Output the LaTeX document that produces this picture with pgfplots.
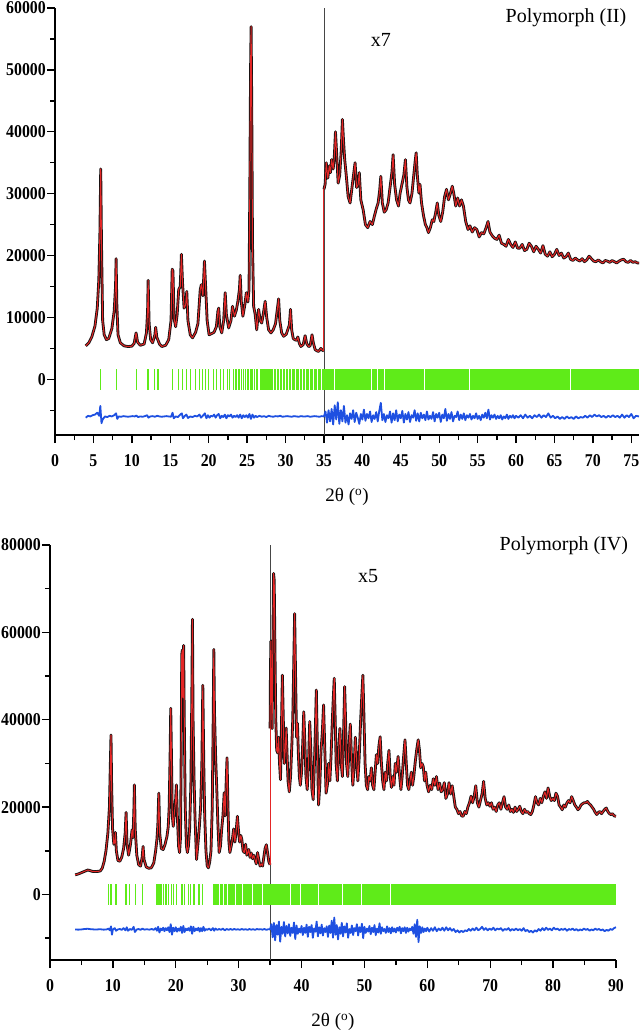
\documentclass[border=0pt]{standalone}
\usepackage{pgfplots}
\pgfplotsset{compat=1.18}
\usepackage{pgfplotstable}
\usepackage{fontspec}
\setmainfont{Liberation Serif}
\newfontfamily\tickfont[FakeStretch=0.88]{Liberation Serif}
\definecolor{obsblack}{RGB}{25,18,18}
\definecolor{calcred}{RGB}{228,38,38}
\definecolor{tickgreen}{RGB}{95,235,25}
\definecolor{diffblue}{RGB}{30,80,225}
\definecolor{vline}{RGB}{70,70,70}

% ---------------- Polymorph (II) ----------------
\pgfplotstableread{
x y
4.0 5400
4.4 5900
4.8 6900
5.2 8600
5.5 11500
5.7 16000
5.85 24000
5.95 34000
6.05 22000
6.2 9500
6.4 7200
6.7 6400
7.0 6600
7.4 8200
7.7 11000
7.88 15000
7.95 19500
8.05 12000
8.2 7200
8.5 5900
9.0 5400
9.5 5300
10.0 5350
10.3 5800
10.55 7500
10.75 6000
11.1 5500
11.6 5700
11.9 7500
12.05 11000
12.12 16000
12.25 9000
12.45 6400
12.7 5900
13.0 7200
13.1 8400
13.25 6800
13.6 5700
13.9 5300
14.4 5500
14.8 6400
15.1 9500
15.25 17800
15.35 17500
15.5 9800
15.7 8500
15.9 10500
16.1 14500
16.3 15000
16.45 20200
16.6 15500
16.8 11500
17.0 12000
17.15 14200
17.3 9500
17.6 7200
17.9 6700
18.3 7600
18.6 9000
18.9 14500
19.05 15300
19.25 13500
19.45 19100
19.6 15000
19.8 9500
20.05 7200
20.4 7400
20.7 7600
21.0 8500
21.2 11000
21.3 11500
21.45 8500
21.7 7500
21.95 9500
22.15 14000
22.3 10500
22.6 8300
22.9 9500
23.1 11800
23.35 10200
23.6 11200
23.8 12600
24.0 14500
24.1 16800
24.25 12500
24.45 10200
24.7 12000
24.9 14000
25.1 12500
25.25 14500
25.35 30000
25.45 50000
25.52 57000
25.6 45000
25.7 22000
25.85 11800
26.05 10500
26.25 8000
26.5 11300
26.7 9500
26.9 9100
27.1 10500
27.35 12600
27.55 10000
27.8 8000
28.1 7500
28.4 8000
28.7 9000
28.95 11500
29.1 13000
29.25 9500
29.5 7500
29.75 6950
30.1 7300
30.5 8800
30.65 11300
30.8 8000
31.0 6600
31.2 6400
31.45 6300
31.6 6850
31.8 5800
32.0 5300
32.3 5600
32.55 7050
32.75 5800
33.0 5300
33.2 5400
33.45 7200
33.6 6000
33.85 4800
34.1 4600
34.3 4500
34.6 5000
34.8 4700
35.0 4600
}\topA

\pgfplotstableread{
x y
35.0 30700
35.15 31500
35.3 35000
35.5 32500
35.7 34500
35.85 33400
36.0 35500
36.2 34000
36.35 36000
36.5 40000
36.65 36500
36.85 31700
37.05 33000
37.25 37000
37.4 42000
37.55 38500
37.7 35500
37.9 33000
38.15 29500
38.4 28500
38.65 31000
38.85 33000
39.05 35000
39.25 31000
39.45 31500
39.6 33400
39.8 29000
40.1 27400
40.4 25000
40.7 24500
41.0 25500
41.3 25000
41.55 26300
41.8 27500
42.05 28500
42.25 30500
42.4 32800
42.6 28500
42.85 27000
43.1 27400
43.35 28500
43.6 31000
43.85 33500
44.0 36300
44.2 31500
44.45 29000
44.7 28000
44.9 30000
45.15 31500
45.4 33000
45.6 35500
45.8 31000
46.0 29000
46.2 28500
46.45 30000
46.65 32500
46.85 35000
47.0 36600
47.15 33000
47.35 30100
47.5 31500
47.7 28500
47.95 26500
48.2 25000
48.4 24500
48.6 23700
48.85 24500
49.1 25800
49.3 25500
49.55 27000
49.75 28500
49.95 26500
50.2 25500
50.45 27000
50.7 29500
50.95 30700
51.2 29000
51.45 30000
51.7 31200
51.9 30000
52.15 28000
52.4 29300
52.65 28000
52.9 29000
53.15 28000
53.45 25500
53.75 24200
54.0 24800
54.3 23800
54.6 24500
54.9 24200
55.2 23000
55.5 23700
55.8 23500
56.1 24500
56.35 25500
56.6 23800
56.9 23200
57.2 22800
57.5 22600
57.8 23300
58.1 22000
58.4 21800
58.7 21500
59.0 22600
59.3 21800
59.6 21300
59.9 22200
60.2 21200
60.5 21200
60.8 21800
61.1 20800
61.4 21000
61.7 22000
62.0 21500
62.3 20600
62.6 21500
62.9 21000
63.2 20400
63.5 21600
63.8 20200
64.1 19900
64.4 20600
64.7 19800
65.0 20200
65.3 21000
65.6 20000
65.9 20400
66.2 19600
66.5 19800
66.8 20400
67.1 19400
67.4 19200
67.7 19600
68.0 19300
68.3 19100
68.6 19500
68.9 19000
69.2 19300
69.5 19900
69.8 19500
70.1 19100
70.4 19000
70.7 19300
71.0 19000
71.3 18800
71.6 19200
71.9 19100
72.2 18900
72.5 19200
72.8 19000
73.1 18800
73.4 19100
73.7 19300
74.0 19400
74.3 19000
74.6 18900
74.9 19200
75.2 18900
75.5 19000
75.8 18800
76.0 18800
}\topB

\pgfplotstableread{
x y
4.0 -6200
4.3 -5900
4.6 -6000
4.9 -5800
5.2 -5700
5.5 -5400
5.75 -5900
5.9 -4300
6.05 -7100
6.2 -6500
6.5 -6000
6.8 -6100
7.1 -5900
7.4 -6000
7.7 -5800
7.95 -5500
8.1 -6400
8.3 -6000
8.6 -6050
8.9 -5950
9.2 -6000
9.5 -6050
9.8 -6000
10.1 -5950
10.4 -6000
10.6 -5850
10.8 -6100
11.1 -6000
11.4 -6050
11.7 -5950
12.0 -5800
12.15 -6200
12.4 -6000
12.7 -5950
13.0 -6050
13.3 -5900
13.6 -6000
13.9 -6050
14.2 -6000
14.5 -5950
14.8 -6000
15.1 -6050
15.3 -5400
15.45 -6300
15.7 -6000
16.0 -6100
16.3 -5700
16.5 -5500
16.65 -6300
16.9 -5900
17.1 -5700
17.3 -6250
17.6 -6000
17.9 -6100
18.2 -5900
18.5 -6000
18.8 -5700
19.0 -6200
19.3 -5800
19.5 -5500
19.7 -6300
19.9 -5800
20.1 -6200
20.3 -5900
20.5 -6000
20.7 -5700
20.9 -6200
21.1 -5800
21.3 -5600
21.5 -6300
21.7 -5900
21.9 -6100
22.1 -5700
22.3 -6300
22.5 -5800
22.7 -6000
22.9 -5700
23.1 -6200
23.3 -5900
23.5 -6100
23.7 -5800
23.9 -6200
24.1 -5700
24.3 -6300
24.5 -5800
24.7 -6100
24.9 -5800
25.1 -6200
25.3 -5600
25.5 -6400
25.7 -5700
25.9 -6200
26.1 -5900
26.3 -6100
26.6 -5900
26.9 -6050
27.2 -5950
27.5 -6100
27.8 -5900
28.1 -6000
28.4 -6050
28.7 -5950
29.0 -6000
29.3 -5900
29.6 -6050
29.9 -6000
30.2 -5950
30.5 -6000
30.8 -6050
31.1 -5950
31.4 -6000
31.7 -6050
32.0 -5950
32.3 -6000
32.6 -6000
32.9 -5950
33.2 -6050
33.5 -6000
33.8 -5950
34.1 -6000
34.4 -6050
34.7 -5950
35.0 -6000
35.2 -5200
35.4 -7000
35.6 -5000
35.8 -6800
36.0 -4800
36.2 -7300
36.4 -4200
36.6 -6500
36.8 -3700
37.0 -7200
37.2 -5000
37.4 -6800
37.6 -4300
37.8 -7000
38.0 -5800
38.2 -7300
38.4 -5500
38.6 -6400
38.8 -5000
39.0 -6900
39.2 -5400
39.4 -6200
39.6 -7200
39.8 -5600
40.0 -6500
40.2 -4900
40.4 -6700
40.6 -5600
40.8 -6300
41.0 -5200
41.2 -6900
41.4 -5800
41.6 -6400
41.8 -5300
42.0 -6800
42.2 -5100
42.4 -3800
42.6 -6600
42.8 -5600
43.0 -6900
43.2 -5800
43.4 -6300
43.6 -5200
43.8 -7000
44.0 -5500
44.2 -6600
44.4 -5000
44.6 -6800
44.8 -5700
45.0 -6300
45.2 -5100
45.4 -7000
45.6 -5600
45.8 -6500
46.0 -5300
46.2 -6900
46.4 -5800
46.6 -6200
46.8 -5000
47.0 -6700
47.2 -5500
47.4 -6800
47.6 -5400
47.8 -6300
48.0 -5700
48.2 -6600
48.4 -5200
48.6 -6500
48.8 -5900
49.0 -6400
49.2 -5300
49.4 -6800
49.6 -5600
49.8 -6200
50.0 -5400
50.2 -6900
50.4 -5700
50.6 -6300
50.8 -4800
51.0 -6700
51.2 -5600
51.4 -6400
51.6 -5300
51.8 -6800
52.0 -5900
52.2 -6100
52.4 -5200
52.6 -6600
52.8 -5700
53.0 -6400
53.2 -5500
53.4 -6600
53.6 -5800
53.8 -6200
54.0 -5600
54.2 -6500
54.4 -5900
54.6 -6300
54.8 -5500
55.0 -6400
55.2 -5900
55.4 -6600
55.6 -5700
55.8 -6200
56.0 -5400
56.2 -6300
56.4 -4900
56.6 -6500
56.8 -5800
57.0 -6200
57.2 -5700
57.4 -6400
57.6 -5900
57.8 -6300
58.0 -5800
58.2 -6500
58.4 -6000
58.6 -6300
58.8 -5700
59.0 -6400
59.2 -5900
59.4 -6200
59.6 -5800
59.8 -6300
60.0 -5900
60.3 -6200
60.6 -5800
60.9 -6300
61.2 -5700
61.5 -6200
61.8 -5900
62.1 -6300
62.4 -5800
62.7 -6100
63.0 -5700
63.3 -6200
63.6 -5800
63.9 -6100
64.2 -5500
64.5 -6200
64.8 -5900
65.1 -6300
65.4 -6000
65.7 -6400
66.0 -6100
66.3 -6400
66.6 -6000
66.9 -6300
67.2 -6100
67.5 -6400
67.8 -6000
68.1 -6300
68.4 -6100
68.7 -6200
69.0 -5900
69.3 -6200
69.6 -5800
69.9 -6100
70.2 -5700
70.5 -6000
70.8 -5800
71.1 -6100
71.4 -5900
71.7 -6200
72.0 -5900
72.3 -6100
72.6 -5800
72.9 -6100
73.2 -5900
73.5 -6200
73.8 -5700
74.1 -6200
74.4 -5800
74.7 -6100
75.0 -5600
75.3 -6300
75.6 -5900
76.0 -6000
}\topD

% ---------------- Polymorph (IV) ----------------
\pgfplotstableread{
x y
4.0 4500
4.5 4700
5.0 5000
5.5 5300
6.0 5600
6.3 5500
6.7 5300
7.2 5250
7.7 5300
8.0 5400
8.3 6000
8.6 7500
8.9 10000
9.2 14000
9.45 20000
9.6 30000
9.7 36500
9.8 25000
9.95 15000
10.15 11500
10.3 12000
10.4 14200
10.55 10000
10.8 7800
11.1 7600
11.4 8500
11.7 10500
11.95 14000
12.1 18800
12.25 11500
12.5 9000
12.8 11500
13.05 14800
13.2 13000
13.35 20000
13.42 25100
13.55 15000
13.8 9000
14.1 6800
14.4 6500
14.65 8500
14.8 11000
14.95 8000
15.3 6300
15.7 6000
16.1 6100
16.5 7200
16.8 10000
17.0 12600
17.15 16000
17.3 23200
17.45 14000
17.7 10500
18.0 10300
18.3 11500
18.6 13300
18.8 15500
18.95 20000
19.1 32000
19.2 42600
19.3 33000
19.45 18000
19.6 15600
19.8 19000
19.95 21000
20.1 25100
20.25 18000
20.45 11000
20.6 9600
20.75 13000
20.85 30000
20.95 55000
21.05 56000
21.15 45000
21.25 57000
21.35 40000
21.5 20000
21.7 11000
21.85 9600
22.0 11000
22.2 15000
22.4 25000
22.55 45000
22.65 63000
22.75 40000
22.9 27000
23.05 18000
23.3 8000
23.55 12000
23.75 15600
23.95 20000
24.15 30000
24.3 47900
24.45 30000
24.6 18000
24.8 10000
25.0 6500
25.2 6100
25.4 7500
25.6 10000
25.8 20000
25.95 40000
26.05 56100
26.15 42000
26.35 30800
26.5 25000
26.7 16000
26.9 9600
27.1 11000
27.3 15000
27.5 18000
27.7 23300
27.85 18000
28.0 25000
28.15 31300
28.3 20000
28.45 12000
28.6 9600
28.8 11000
29.0 12600
29.2 15000
29.4 12000
29.6 14500
29.8 17900
29.95 15000
30.15 12000
30.35 13500
30.5 12600
30.7 10000
30.9 9600
31.1 11500
31.3 9000
31.6 10300
31.8 8500
32.0 9500
32.2 8200
32.4 9000
32.6 8000
32.8 7000
33.0 9600
33.2 8000
33.4 6500
33.6 7000
33.8 6500
34.0 8500
34.2 10500
34.4 11400
34.6 9500
34.8 7500
35.0 6800
}\botA

\pgfplotstableread{
x y
35.0 38000
35.05 50000
35.12 58000
35.22 48000
35.32 38000
35.42 55000
35.55 73500
35.65 72000
35.78 55000
35.9 40000
36.05 33000
36.2 32400
36.35 36000
36.5 30000
36.65 26300
36.8 38000
36.95 50200
37.1 40000
37.25 30000
37.4 33000
37.55 38100
37.7 32000
37.85 26000
38.05 23500
38.25 27000
38.45 34000
38.6 40000
38.75 52000
38.9 64300
39.05 50000
39.2 36000
39.35 39200
39.5 32000
39.65 27000
39.8 25000
40.0 28000
40.2 35000
40.35 41800
40.5 36000
40.7 27000
40.9 24000
41.1 30000
41.3 39600
41.45 34000
41.65 24000
41.85 21700
42.05 30000
42.2 38000
42.35 46800
42.5 35000
42.7 20500
42.9 25000
43.1 33000
43.3 37000
43.5 43400
43.7 33000
43.9 23200
44.1 25000
44.3 30000
44.5 26000
44.7 32000
44.9 40000
45.05 45000
45.2 49500
45.35 40000
45.5 30000
45.7 26000
45.9 33000
46.1 38000
46.3 30000
46.5 27000
46.7 38000
46.85 47600
47.0 40000
47.15 30000
47.35 27000
47.55 34000
47.75 39000
47.95 31000
48.15 25000
48.35 29000
48.55 36000
48.75 31000
48.95 26000
49.15 31000
49.4 40000
49.6 46000
49.75 50200
49.9 42000
50.1 30000
50.3 25000
50.5 24000
50.7 27000
50.9 26000
51.1 29000
51.3 25000
51.5 24000
51.7 28000
51.9 32000
52.1 30000
52.3 34000
52.5 36100
52.7 30000
52.9 26000
53.1 24000
53.3 28000
53.5 26000
53.7 30000
53.9 33000
54.1 27000
54.3 24500
54.5 27000
54.7 25000
54.9 30000
55.1 28000
55.35 31600
55.6 27000
55.8 24000
56.0 27000
56.2 31000
56.45 35400
56.65 30000
56.85 25000
57.05 24000
57.25 26000
57.45 28000
57.65 25000
57.85 27000
58.05 30000
58.3 33000
58.55 35400
58.75 33000
58.95 29000
59.15 30000
59.35 29300
59.55 26000
59.75 28000
59.95 25000
60.2 23500
60.45 25000
60.7 24000
60.95 26500
61.2 25000
61.45 27000
61.7 24000
61.95 25500
62.2 23500
62.45 24000
62.7 25600
62.95 22000
63.2 23000
63.45 25600
63.7 23000
63.95 24900
64.2 22500
64.45 20000
64.7 19500
64.95 18500
65.2 19000
65.45 18000
65.7 17900
65.95 19000
66.2 18500
66.45 20000
66.7 21000
66.95 22500
67.2 21000
67.45 22500
67.7 24900
67.95 21000
68.2 20000
68.45 21500
68.7 23000
68.95 25900
69.2 22000
69.45 20500
69.7 21000
69.95 20200
70.2 21000
70.45 19500
70.7 20000
70.95 19000
71.2 20500
71.45 21000
71.7 19500
71.95 21000
72.2 22400
72.45 20000
72.7 19500
72.95 20500
73.2 19000
73.45 19500
73.7 18800
73.95 20000
74.2 19000
74.45 19500
74.7 20200
74.95 19000
75.2 18500
75.45 19500
75.7 18800
75.95 19000
76.2 18500
76.45 18300
76.7 19000
76.95 20500
77.2 22400
77.45 21000
77.7 20500
77.95 22000
78.2 21000
78.45 22500
78.7 23500
78.95 22000
79.2 24400
79.45 22500
79.7 21500
79.95 22000
80.2 21500
80.45 23200
80.7 22500
80.95 20500
81.2 20000
81.45 19400
81.7 20500
81.95 20000
82.2 21000
82.45 21500
82.7 21000
82.95 22400
83.2 21500
83.45 20500
83.7 20000
83.95 19400
84.2 19800
84.45 20500
84.7 20800
84.95 21000
85.2 21000
85.45 21300
85.7 20800
85.95 20500
86.2 20000
86.45 19500
86.7 18800
86.95 18300
87.2 18800
87.45 19000
87.7 18500
87.95 19000
88.2 19500
88.45 19800
88.7 19000
88.95 18500
89.2 18300
89.45 18500
89.7 18000
90.0 17900
}\botB

\pgfplotstableread{
x y
4.0 -8000
4.5 -8050
5.0 -8000
5.5 -7900
6.0 -7850
6.5 -7950
7.0 -8000
7.5 -8000
8.0 -7950
8.5 -8050
9.0 -8000
9.3 -7800
9.5 -8200
9.7 -7300
9.85 -9200
10.0 -8000
10.3 -7700
10.5 -8300
10.8 -8000
11.1 -7900
11.4 -8100
11.7 -7700
12.0 -8200
12.2 -7500
12.4 -8300
12.7 -7900
13.0 -8100
13.3 -7400
13.5 -8600
13.8 -8000
14.1 -7900
14.4 -8100
14.7 -7800
15.0 -8050
15.4 -7950
15.8 -8050
16.2 -7900
16.5 -8100
16.8 -7700
17.0 -8300
17.2 -7400
17.4 -8700
17.6 -7800
17.8 -8200
18.0 -7600
18.2 -8400
18.4 -7700
18.6 -8200
18.8 -7500
19.0 -8600
19.2 -6800
19.4 -9200
19.6 -7600
19.8 -8400
20.0 -7500
20.2 -8500
20.4 -7800
20.6 -8300
20.8 -7400
21.0 -8800
21.2 -7200
21.4 -8600
21.6 -7800
21.8 -8200
22.0 -7700
22.2 -8300
22.4 -7300
22.6 -9000
22.8 -7400
23.0 -8400
23.2 -7800
23.4 -8200
23.6 -7600
23.8 -8500
24.0 -7700
24.2 -8400
24.4 -7400
24.6 -8300
24.8 -7900
25.0 -8100
25.3 -7800
25.6 -8200
25.9 -7700
26.1 -8300
26.3 -7800
26.6 -8100
26.9 -7900
27.2 -8100
27.5 -7800
27.8 -8200
28.1 -7900
28.4 -8100
28.7 -7900
29.0 -8100
29.3 -7900
29.6 -8050
29.9 -7950
30.2 -8100
30.5 -7900
30.8 -8050
31.1 -7950
31.4 -8100
31.7 -7900
32.0 -8050
32.3 -7950
32.6 -8100
32.9 -7900
33.2 -8000
33.5 -7950
33.8 -8050
34.1 -7900
34.4 -8100
34.7 -7950
35.0 -8000
35.2 -6800
35.4 -9800
35.6 -6500
35.8 -10500
36.0 -7000
36.2 -9200
36.4 -6200
36.6 -10800
36.8 -7400
37.0 -9000
37.2 -6300
37.4 -9600
37.6 -7200
37.8 -8900
38.0 -6800
38.2 -9500
38.4 -7600
38.6 -8800
38.8 -6400
39.0 -10200
39.2 -7100
39.4 -9000
39.6 -7800
39.8 -8700
40.0 -7200
40.2 -9300
40.4 -7600
40.6 -8800
40.8 -6900
41.0 -9700
41.2 -7400
41.4 -8600
41.6 -7000
41.8 -9900
42.0 -7800
42.2 -8500
42.4 -6200
42.6 -9600
42.8 -7500
43.0 -8900
43.2 -6900
43.4 -9400
43.6 -7700
43.8 -8600
44.0 -7300
44.2 -9700
44.4 -7100
44.6 -8800
44.8 -6000
45.0 -9900
45.2 -5300
45.4 -9200
45.6 -7000
45.8 -10300
46.0 -7500
46.2 -9000
46.4 -6500
46.6 -9600
46.8 -7300
47.0 -8700
47.2 -6600
47.4 -9900
47.6 -7900
47.8 -8800
48.0 -7100
48.2 -9300
48.4 -7700
48.6 -8400
48.8 -6800
49.0 -9400
49.2 -7500
49.4 -8600
49.6 -6700
49.8 -10000
50.0 -7400
50.2 -8800
50.4 -7800
50.6 -8500
50.8 -7200
51.0 -9100
51.2 -7600
51.4 -8600
51.6 -7000
51.8 -9300
52.0 -7800
52.2 -8700
52.4 -6600
52.6 -9000
52.8 -7500
53.0 -8400
53.2 -7900
53.4 -8800
53.6 -7300
53.8 -8600
54.0 -7700
54.2 -8900
54.4 -7500
54.6 -8500
54.8 -7800
55.0 -8700
55.2 -7600
55.4 -8300
55.6 -7400
55.8 -8900
56.0 -7700
56.2 -8400
56.4 -7500
56.6 -8800
56.8 -7600
57.0 -8500
57.2 -7800
57.4 -8200
57.6 -7400
57.8 -9000
58.0 -6800
58.2 -9700
58.4 -5800
58.6 -10900
58.8 -7300
59.0 -8800
59.2 -7500
59.4 -8600
59.6 -7800
59.8 -8400
60.0 -7600
60.3 -8500
60.6 -7700
60.9 -8300
61.2 -7500
61.5 -8400
61.8 -7800
62.1 -8200
62.4 -7600
62.7 -8300
63.0 -7500
63.3 -8200
63.6 -7700
63.9 -8300
64.2 -7900
64.5 -8600
64.8 -8200
65.1 -8700
65.4 -8300
65.7 -8600
66.0 -8200
66.3 -8400
66.6 -7900
66.9 -8300
67.2 -7800
67.5 -8200
67.8 -7600
68.1 -8200
68.4 -7900
68.7 -7400
69.0 -8100
69.3 -7700
69.6 -8200
69.9 -7800
70.2 -8100
70.5 -7600
70.8 -8200
71.1 -7800
71.4 -8000
71.7 -7700
72.0 -8300
72.3 -7900
72.6 -8100
72.9 -7700
73.2 -8300
73.5 -7900
73.8 -8200
74.1 -7800
74.4 -8200
74.7 -7900
75.0 -8300
75.3 -7700
75.6 -8400
75.9 -8100
76.2 -8600
76.5 -8300
76.8 -8700
77.1 -8200
77.4 -8500
77.7 -7900
78.0 -8300
78.3 -7700
78.6 -8200
78.9 -7600
79.2 -8100
79.5 -7800
79.8 -8200
80.1 -7600
80.4 -8000
80.7 -7800
81.0 -8200
81.3 -7900
81.6 -8100
81.9 -7800
82.2 -8300
82.5 -7900
82.8 -8100
83.1 -7800
83.4 -8200
83.7 -7900
84.0 -8300
84.3 -8000
84.6 -8200
84.9 -7800
85.2 -8100
85.5 -7900
85.8 -8300
86.1 -8000
86.4 -8200
86.7 -7800
87.0 -8100
87.3 -7900
87.6 -8200
87.9 -8000
88.2 -8400
88.5 -8100
88.8 -8300
89.1 -7900
89.4 -8100
89.7 -7700
90.0 -7500
}\botD

\pgfplotsset{
  rv/.style={
    scale only axis,
    axis lines*=left,
    axis line style={line width=1.6pt, black},
    tick align=outside,
    major tick length=8pt,
    minor tick length=5pt,
    every tick/.append style={black, line width=1.4pt},
    tick label style={font=\tickfont\bfseries\fontsize{18}{18}\selectfont},
    /pgf/number format/assume math mode=true,
    scaled ticks=false,
    yticklabel style={inner sep=1pt, /pgf/number format/.cd, fixed, 1000 sep={}},
    xticklabel style={yshift=-8pt, /pgf/number format/.cd, fixed, 1000 sep={}},
    clip=false,
    xlabel style={font=\fontsize{19}{19}\selectfont, anchor=center},
  },
  obs/.style={obsblack, line width=2.8pt, line join=round},
  calc/.style={calcred, line width=1pt, line join=round},
  diff/.style={diffblue, line width=1.8pt, line join=round},
}

\begin{document}
\begin{tikzpicture}[x=1pt,y=1pt]
\path[use as bounding box] (0,0) rectangle (640,-1035);

% ===== Top: Polymorph (II) =====
\begin{axis}[rv,
  at={(55pt,-435pt)}, anchor=south west,
  width=584pt, height=427pt,
  xmin=0, xmax=76, ymin=-9000, ymax=60000,
  xtick={0,5,...,75}, minor x tick num=1,
  ytick={-10000,0,10000,20000,30000,40000,50000,60000}, minor y tick num=1,
  xlabel={2θ (\textsuperscript{o})},
  xlabel style={at={(axis description cs:0.5,-0.145)}},
]
\addplot[vline, line width=0.7pt] coordinates {(35,-9000) (35,60000)};
% reflection markers
\addplot[draw=none, fill=tickgreen] coordinates {(23.45,-1700) (26.4,-1700) (26.4,1700) (23.45,1700)};
\addplot[draw=none, fill=tickgreen] coordinates {(26.7,-1700) (76,-1700) (76,1700) (26.7,1700)};
\addplot[draw=none, forget plot, error bars/.cd, y dir=both, y fixed=1700,
  error mark=none, error bar style={tickgreen, line width=1.2pt}]
  coordinates {(5.93,0) (8.0,0) (10.6,0) (12.1,0) (13.0,0) (13.4,0) (15.3,0) (16.1,0) (16.6,0) (17.1,0) (17.6,0) (18.3,0) (18.8,0) (19.2,0) (19.6,0) (20.0,0) (20.6,0) (21.0,0) (21.5,0) (21.9,0) (22.4,0) (22.7,0) (23.2,0)};
\addplot[draw=none, forget plot, error bars/.cd, y dir=both, y fixed=1750,
  error mark=none, error bar style={white, line width=0.6pt}]
  coordinates {(23.75,0) (24.05,0) (24.35,0) (24.65,0) (24.95,0) (25.35,0) (25.75,0) (26.05,0) (28.4,0) (28.8,0) (29.2,0) (29.6,0) (30.0,0) (30.4,0) (30.8,0) (31.3,0) (31.8,0) (32.2,0) (32.6,0) (33.1,0) (33.6,0) (34.1,0) (34.6,0) (36.4,0) (41.1,0) (41.9,0) (42.9,0) (48.1,0) (53.9,0) (67.1,0)};
% difference
\addplot[diff] table {\topD};
% observed
\addplot[obs] table {\topA};
\addplot[obs] table {\topB};
% calculated
\addplot[calc] table {\topA};
\addplot[calc] coordinates {(35,4600) (35,30700)};
\addplot[calc] table {\topB};
\node[font=\fontsize{20}{20}\selectfont] at (axis cs:66.5,58450) {Polymorph (II)};
\node[font=\fontsize{20}{20}\selectfont] at (axis cs:42.4,54900) {x7};
\end{axis}

% ===== Bottom: Polymorph (IV) =====
\begin{axis}[rv,
  at={(50pt,-960pt)}, anchor=south west,
  width=566pt, height=415pt,
  xmin=0, xmax=90, ymin=-15000, ymax=80000,
  xtick={0,10,...,90}, minor x tick num=1,
  ytick={-20000,0,20000,40000,60000,80000}, minor y tick num=1,
  xlabel={2θ (\textsuperscript{o})},
  xlabel style={at={(axis description cs:0.5,-0.149)}},
]
\addplot[vline, line width=0.7pt] coordinates {(35,-15000) (35,80000)};
\addplot[draw=none, fill=tickgreen] coordinates {(25.9,-2300) (90,-2300) (90,2300) (25.9,2300)};
\addplot[draw=none, forget plot, error bars/.cd, y dir=both, y fixed=2300,
  error mark=none, error bar style={tickgreen, line width=1.2pt}]
  coordinates {(9.25,0) (9.7,0) (10.5,0) (12.1,0) (12.6,0) (13.6,0) (14.75,0) (17.0,0) (17.25,0) (17.5,0) (17.75,0) (18.0,0) (18.45,0) (18.8,0) (19.3,0) (19.7,0) (20.15,0) (21.0,0) (21.4,0) (22.0,0) (22.4,0) (22.9,0) (23.7,0) (24.3,0)};
\addplot[draw=none, forget plot, error bars/.cd, y dir=both, y fixed=2350,
  error mark=none, error bar style={white, line width=0.6pt}]
  coordinates {(27.0,0) (27.6,0) (28.2,0) (29.4,0) (30.6,0) (32.2,0) (33.7,0) (38.2,0) (39.8,0) (42.7,0) (46.5,0) (49.5,0) (54.1,0)};
\addplot[diff] table {\botD};
\addplot[obs] table {\botA};
\addplot[obs] table {\botB};
\addplot[calc] table {\botA};
\addplot[calc] coordinates {(35,6800) (35,38000)};
\addplot[calc] table {\botB};
\node[font=\fontsize{20}{20}\selectfont] at (axis cs:81.7,79900) {Polymorph (IV)};
\node[font=\fontsize{20}{20}\selectfont] at (axis cs:50.6,72800) {x5};
\end{axis}
\end{tikzpicture}
\end{document}
